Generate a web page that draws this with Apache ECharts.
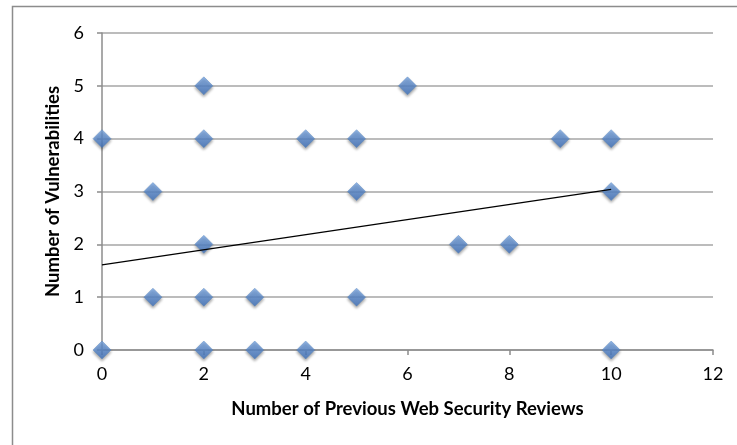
<!DOCTYPE html>
<html><head><meta charset="utf-8">
<script src="https://cdn.jsdelivr.net/npm/echarts@6/dist/echarts.min.js"></script>
<style>html,body{margin:0;padding:0;background:#fff}#c{width:737px;height:445px}</style>
</head><body><div id="c"></div>
<script>
var xValues = [0,0,1,1,2,2,2,2,2,3,3,4,4,5,5,5,6,7,8,9,10,10,10];
var yValues = [4,0,3,1,5,4,2,1,0,1,0,4,0,4,3,1,5,2,2,4,4,3,0];
var trendX = [0,10];
var trendY = [1.61,3.04];
var xTitle = 'Number of Previous Web Security Reviews';
var yTitle = 'Number of Vulnerabilities';

var pts = xValues.map(function(x,i){return [x,yValues[i]];});
var trend = trendX.map(function(x,i){return [x,trendY[i]];});
var font = 'Lato, "Open Sans", sans-serif';
var chart = echarts.init(document.getElementById('c'));
chart.setOption({
  animation:false,
  graphic:[{type:'rect',shape:{x:12.5,y:6.5,width:760,height:460},style:{fill:'none',stroke:'#8c8c8c',lineWidth:1.5},z:-1}],
  grid:{left:102,right:24,top:33,bottom:95,containLabel:false},
  xAxis:{type:'value',min:0,max:12,interval:2,
    name:xTitle,nameLocation:'middle',nameGap:50,
    nameTextStyle:{fontFamily:font,fontWeight:'bold',fontSize:18.5,color:'#000'},
    axisLine:{show:true,lineStyle:{color:'#8c8c8c',width:1.5}},
    axisTick:{show:true,length:5,lineStyle:{color:'#8c8c8c',width:1.5}},
    axisLabel:{fontFamily:font,fontSize:18,color:'#000',margin:15},
    splitLine:{show:false}},
  yAxis:{type:'value',min:0,max:6,interval:1,
    name:yTitle,nameLocation:'middle',nameGap:35,
    nameTextStyle:{fontFamily:font,fontWeight:'bold',fontSize:18.5,color:'#000'},
    axisLine:{show:true,lineStyle:{color:'#8c8c8c',width:1.5}},
    axisTick:{show:true,length:5,lineStyle:{color:'#8c8c8c',width:1.5}},
    axisLabel:{fontFamily:font,fontSize:18,color:'#000',margin:18},
    splitLine:{show:true,lineStyle:{color:'#a6a6a6',width:1.5}}},
  series:[
    {type:'scatter',data:pts,symbol:'diamond',symbolSize:[18,18],z:3,
     itemStyle:{color:new echarts.graphic.LinearGradient(0,0,0,1,[{offset:0,color:'#7aa7e3'},{offset:1,color:'#3f72bd'}]),
       borderColor:'#4f81bd',borderWidth:0.5,
       shadowColor:'rgba(0,0,0,0.45)',shadowBlur:3,shadowOffsetY:2,shadowOffsetX:0}},
    {type:'line',data:trend,symbol:'none',z:4,lineStyle:{color:'#000',width:1.3}}
  ]
});
</script></body></html>
